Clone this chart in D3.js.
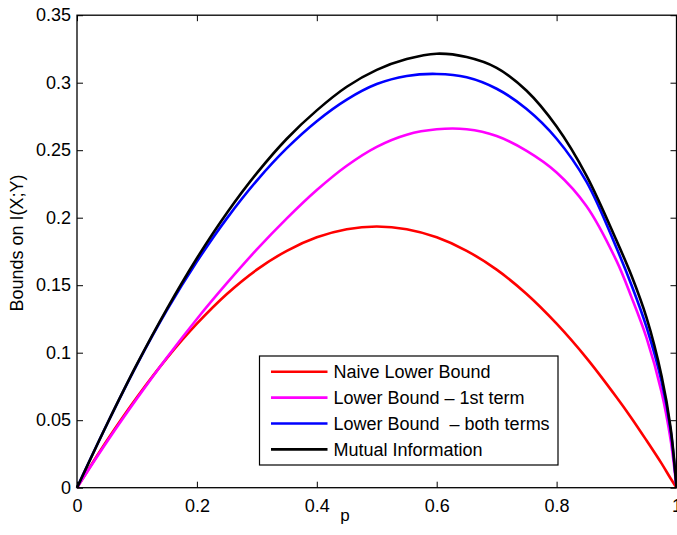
<!DOCTYPE html>
<html>
<head>
<meta charset="utf-8">
<script src="https://cdn.jsdelivr.net/npm/d3@7"></script>
<style>
  body { margin: 0; background: #fff; }
  svg text { font-family: "Liberation Sans", Arial, Helvetica, sans-serif; }
</style>
</head>
<body>
<div id="chart"></div>
<script>
// values
const pValues = [0, 0.05, 0.1, 0.15, 0.2, 0.25, 0.3, 0.35, 0.4, 0.45, 0.5, 0.55, 0.6, 0.65, 0.7, 0.75, 0.8, 0.85, 0.9, 0.925, 0.95, 0.975, 0.99, 1];
const naiveLower = [0, 0.035, 0.067, 0.096, 0.1215, 0.1435, 0.1615, 0.1755, 0.1855, 0.1915, 0.1935, 0.1915, 0.1855, 0.1755, 0.1615, 0.1435, 0.1215, 0.096, 0.067, 0.0515, 0.035, 0.018, 0.007, 0];
const lowerFirst = [0, 0.034, 0.066, 0.0965, 0.125, 0.1515, 0.1765, 0.1995, 0.2205, 0.2385, 0.2525, 0.2615, 0.2655, 0.2655, 0.2605, 0.2495, 0.2335, 0.2085, 0.168, 0.141, 0.111, 0.071, 0.036, 0];
const lowerBoth = [0, 0.047, 0.0912, 0.1315, 0.1675, 0.1995, 0.2275, 0.2515, 0.2715, 0.2875, 0.299, 0.305, 0.3065, 0.304, 0.2955, 0.2805, 0.2585, 0.2265, 0.1775, 0.150, 0.119, 0.079, 0.043, 0];
const mutualInfo = [0, 0.047, 0.0915, 0.1325, 0.170, 0.2035, 0.233, 0.2585, 0.2795, 0.297, 0.3095, 0.3175, 0.3215, 0.319, 0.311, 0.294, 0.2675, 0.231, 0.183, 0.157, 0.126, 0.083, 0.045, 0];

const xTicks = [0, 0.2, 0.4, 0.6, 0.8, 1];
const xTickLabels = ["0", "0.2", "0.4", "0.6", "0.8", "1"];
const yTicks = [0, 0.05, 0.1, 0.15, 0.2, 0.25, 0.3, 0.35];
const yTickLabels = ["0", "0.05", "0.1", "0.15", "0.2", "0.25", "0.3", "0.35"];

const seriesNames = ["Naive Lower Bound", "Lower Bound \u2013 1st term", "Lower Bound  \u2013 both terms", "Mutual Information"];
const seriesColors = ["#ff0000", "#ff00ff", "#0000ff", "#000000"];
const seriesValues = [naiveLower, lowerFirst, lowerBoth, mutualInfo];

const width = 677, height = 535;
const plotLeft = 77, plotRight = 676.5, plotTop = 15.2, plotBottom = 487.7;

const svg = d3.select("#chart").append("svg")
    .attr("width", width)
    .attr("height", height);

const x = d3.scaleLinear().domain([0, 1]).range([plotLeft, plotRight]);
const y = d3.scaleLinear().domain([0, 0.35]).range([plotBottom, plotTop]);

// axes, ticks pointing inward like MATLAB
const fmtX = (d, i) => xTickLabels[i];
const fmtY = (d, i) => yTickLabels[i];

svg.append("g")
    .attr("transform", `translate(0,${plotBottom})`)
    .call(d3.axisBottom(x).tickValues(xTicks).tickFormat(fmtX).tickSizeInner(-6).tickSizeOuter(0).tickPadding(11.5))
    .call(g => g.select(".domain").remove());

svg.append("g")
    .attr("transform", `translate(0,${plotTop})`)
    .call(d3.axisTop(x).tickValues(xTicks).tickFormat("").tickSizeInner(-6).tickSizeOuter(0))
    .call(g => g.select(".domain").remove());

svg.append("g")
    .attr("transform", `translate(${plotLeft},0)`)
    .call(d3.axisLeft(y).tickValues(yTicks).tickFormat(fmtY).tickSizeInner(-6).tickSizeOuter(0).tickPadding(6))
    .call(g => g.select(".domain").remove());

svg.append("g")
    .attr("transform", `translate(${plotRight},0)`)
    .call(d3.axisRight(y).tickValues(yTicks).tickFormat("").tickSizeInner(-6).tickSizeOuter(0))
    .call(g => g.select(".domain").remove());

svg.selectAll(".tick text")
    .attr("fill", "#000")
    .style("font-size", "18px");
svg.selectAll(".tick line")
    .attr("stroke", "#000");

// series
const line = d3.line()
    .x((d, i) => x(pValues[i]))
    .y(d => y(d))
    .curve(d3.curveCatmullRom.alpha(0.5));

svg.selectAll("path.series")
    .data(seriesValues)
    .enter()
    .append("path")
    .attr("class", "series")
    .attr("d", d => line(d))
    .attr("fill", "none")
    .attr("stroke", (d, i) => seriesColors[i])
    .attr("stroke-width", 2.6)
    .attr("stroke-linejoin", "round");

// box
svg.append("rect")
    .attr("x", plotLeft)
    .attr("y", plotTop)
    .attr("width", plotRight - plotLeft)
    .attr("height", plotBottom - plotTop)
    .attr("fill", "none")
    .attr("stroke", "#000")
    .attr("stroke-width", 1.3);

// axis labels
svg.append("text")
    .attr("x", 345)
    .attr("y", 521)
    .attr("text-anchor", "middle")
    .style("font-size", "17px")
    .text("p");

svg.append("text")
    .attr("transform", `translate(23,243) rotate(-90)`)
    .attr("text-anchor", "middle")
    .style("font-size", "18px")
    .text("Bounds on I(X;Y)");

// legend
const legend = svg.append("g");
legend.append("rect")
    .attr("x", 259.5)
    .attr("y", 356)
    .attr("width", 298.5)
    .attr("height", 109)
    .attr("fill", "#fff")
    .attr("stroke", "#000")
    .attr("stroke-width", 1.2);

const items = legend.selectAll("g.item")
    .data(seriesNames)
    .enter()
    .append("g")
    .attr("class", "item")
    .attr("transform", (d, i) => `translate(0,${371.7 + i * 25.9})`);

items.append("line")
    .attr("x1", 271)
    .attr("x2", 327.5)
    .attr("stroke", (d, i) => seriesColors[i])
    .attr("stroke-width", 2.6);

items.append("text")
    .attr("x", 333.5)
    .attr("dy", "0.36em")
    .style("font-size", "18px")
    .style("white-space", "pre")
    .text(d => d);
</script>
</body>
</html>
